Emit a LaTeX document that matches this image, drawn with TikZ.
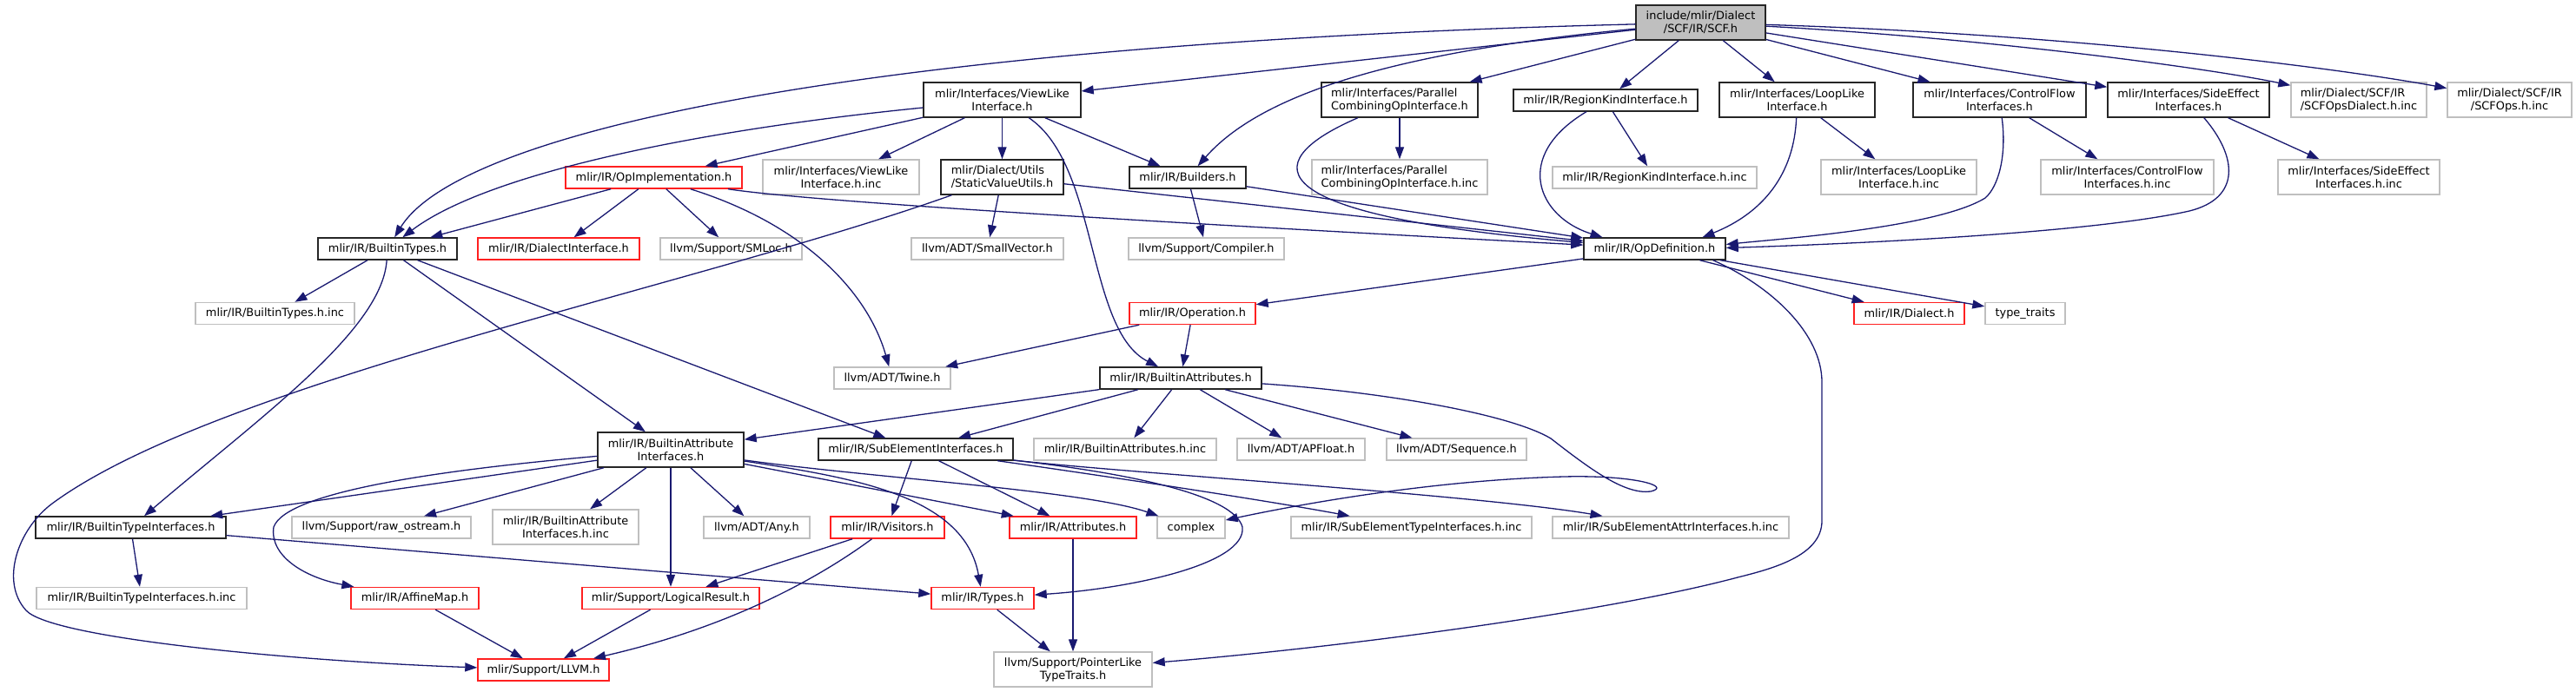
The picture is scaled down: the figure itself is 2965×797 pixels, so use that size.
\documentclass[tikz,border=0pt]{standalone}
\usepackage{fontspec}
\setmainfont{DejaVu Sans}
\usetikzlibrary{arrows.meta}
\definecolor{edgec}{HTML}{191970}
\definecolor{greyb}{HTML}{BFBFBF}
\definecolor{redb}{HTML}{FF2020}
\definecolor{rootf}{HTML}{BFBFBF}
\tikzset{
  box/.style={rectangle, inner sep=0pt, align=center, line width=1.4pt, fill=white,
    font=\fontsize{12.9}{15}\selectfont},
  nb/.style={box, draw=black!85},
  ng/.style={box, draw=greyb},
  nr/.style={box, draw=redb},
  nroot/.style={box, draw=black!85, fill=rootf},
  e/.style={draw=edgec, line width=1.3pt, -{Triangle[length=14pt,width=10pt]}},
  h1/.style={minimum height=25pt},
  h2/.style={minimum height=40pt}
}
\begin{document}
\begin{tikzpicture}[x=1pt,y=-1pt]
\useasboundingbox (0,0) rectangle (2965,797);
% row 0 / 1
\node[nroot,h2,minimum width=149pt] (root) at (1957.5,26) {include/mlir/Dialect\\/SCF/IR/SCF.h};
\node[nb,h2,minimum width=181pt] (vl) at (1153.5,115) {mlir/Interfaces/ViewLike\\Interface.h};
\node[nb,h2,minimum width=180pt,align=left] (par) at (1611,115) {mlir/Interfaces/Parallel\\CombiningOpInterface.h};
\node[nb,h1,minimum width=212pt] (rk) at (1848,115.5) {mlir/IR/RegionKindInterface.h};
\node[nb,h2,minimum width=179pt] (ll) at (2068.5,115) {mlir/Interfaces/LoopLike\\Interface.h};
\node[nb,h2,minimum width=199pt] (cf) at (2301.5,115) {mlir/Interfaces/ControlFlow\\Interfaces.h};
\node[nb,h2,minimum width=186pt] (se) at (2519,115) {mlir/Interfaces/SideEffect\\Interfaces.h};
\node[ng,h2,minimum width=156pt,align=left] (scfd) at (2715,115) {mlir/Dialect/SCF/IR\\/SCFOpsDialect.h.inc};
\node[ng,h2,minimum width=143pt] (scfo) at (2888.5,115) {mlir/Dialect/SCF/IR\\/SCFOps.h.inc};
% row 2
\node[nr,h1,minimum width=203pt] (opimp) at (752.5,204.5) {mlir/IR/OpImplementation.h};
\node[ng,h2,minimum width=180pt] (vlinc) at (968,204) {mlir/Interfaces/ViewLike\\Interface.h.inc};
\node[nb,h2,minimum width=141pt,align=left] (svu) at (1153.5,204) {mlir/Dialect/Utils\\/StaticValueUtils.h};
\node[nb,h1,minimum width=134pt] (bld) at (1367,204.5) {mlir/IR/Builders.h};
\node[ng,h2,minimum width=202pt,align=left] (parinc) at (1611,204) {mlir/Interfaces/Parallel\\CombiningOpInterface.h.inc};
\node[ng,h1,minimum width=235pt] (rkinc) at (1904.5,204.5) {mlir/IR/RegionKindInterface.h.inc};
\node[ng,h2,minimum width=179pt] (llinc) at (2185.5,204) {mlir/Interfaces/LoopLike\\Interface.h.inc};
\node[ng,h2,minimum width=199pt] (cfinc) at (2448.5,204) {mlir/Interfaces/ControlFlow\\Interfaces.h.inc};
\node[ng,h2,minimum width=186pt] (seinc) at (2715,204) {mlir/Interfaces/SideEffect\\Interfaces.h.inc};
% row 3
\node[nb,h1,minimum width=160pt] (bt) at (446,286.5) {mlir/IR/BuiltinTypes.h};
\node[nr,h1,minimum width=186pt] (di) at (643,286.5) {mlir/IR/DialectInterface.h};
\node[ng,h1,minimum width=163pt] (sml) at (841.5,286.5) {llvm/Support/SMLoc.h};
\node[ng,h1,minimum width=175pt] (sv) at (1136.5,286.5) {llvm/ADT/SmallVector.h};
\node[ng,h1,minimum width=179pt] (cmp) at (1388.5,286.5) {llvm/Support/Compiler.h};
\node[nb,h1,minimum width=163pt] (opd) at (1904.5,286.5) {mlir/IR/OpDefinition.h};
% row 4
\node[ng,h1,minimum width=183pt] (btinc) at (316.5,361) {mlir/IR/BuiltinTypes.h.inc};
\node[nr,h1,minimum width=145pt] (op) at (1372.5,361) {mlir/IR/Operation.h};
\node[nr,h1,minimum width=127pt] (dia) at (2197.5,361) {mlir/IR/Dialect.h};
\node[ng,h1,minimum width=92pt] (tt) at (2331,361) {type\_traits};
% row 5
\node[ng,h1,minimum width=134pt] (tw) at (1027,435.5) {llvm/ADT/Twine.h};
\node[nb,h1,minimum width=186pt] (ba) at (1359,435.5) {mlir/IR/BuiltinAttributes.h};
% row 6
\node[nb,h2,minimum width=168pt] (bai) at (772,518) {mlir/IR/BuiltinAttribute\\Interfaces.h};
\node[nb,h1,minimum width=224pt] (sei) at (1054,517.5) {mlir/IR/SubElementInterfaces.h};
\node[ng,h1,minimum width=210pt] (bainc) at (1295,517.5) {mlir/IR/BuiltinAttributes.h.inc};
\node[ng,h1,minimum width=147pt] (apf) at (1497.5,517.5) {llvm/ADT/APFloat.h};
\node[ng,h1,minimum width=161pt] (seq) at (1676.5,517.5) {llvm/ADT/Sequence.h};
% row 7
\node[nb,h1,minimum width=219pt] (bti) at (150.5,607.5) {mlir/IR/BuiltinTypeInterfaces.h};
\node[ng,h1,minimum width=206pt] (raw) at (439,607.5) {llvm/Support/raw\_ostream.h};
\node[ng,h2,minimum width=168pt] (baiinc) at (651,607) {mlir/IR/BuiltinAttribute\\Interfaces.h.inc};
\node[ng,h1,minimum width=122pt] (any) at (871,607.5) {llvm/ADT/Any.h};
\node[nr,h1,minimum width=131pt] (vis) at (1021.5,607.5) {mlir/IR/Visitors.h};
\node[nr,h1,minimum width=146pt] (att) at (1235,607.5) {mlir/IR/Attributes.h};
\node[ng,h1,minimum width=78pt] (cx) at (1371,607.5) {complex};
\node[ng,h1,minimum width=277pt] (setinc) at (1624.5,607.5) {mlir/IR/SubElementTypeInterfaces.h.inc};
\node[ng,h1,minimum width=272pt] (seainc) at (1923,607.5) {mlir/IR/SubElementAttrInterfaces.h.inc};
% row 8
\node[ng,h1,minimum width=242pt] (btiinc) at (163,689) {mlir/IR/BuiltinTypeInterfaces.h.inc};
\node[nr,h1,minimum width=147pt] (aff) at (477.5,689) {mlir/IR/AffineMap.h};
\node[nr,h1,minimum width=204pt] (lr) at (772,689) {mlir/Support/LogicalResult.h};
\node[nr,h1,minimum width=118pt] (ty) at (1131,689) {mlir/IR/Types.h};
% row 9
\node[nr,h1,minimum width=151pt] (llvm) at (625.5,771.5) {mlir/Support/LLVM.h};
\node[ng,h2,minimum width=182pt] (plt) at (1235,771) {llvm/Support/PointerLike\\TypeTraits.h};

% ---- edges from root
\draw[e] (root) .. controls (1000,50) and (530,150) .. (bt);
\draw[e] (root) -- (vl);
\draw[e] (root) .. controls (1600,60) and (1450,110) .. (bld);
\draw[e] (root) -- (par);
\draw[e] (root) -- (rk);
\draw[e] (root) -- (ll);
\draw[e] (root) -- (cf);
\draw[e] (root) -- (se);
\draw[e] (root) .. controls (2300,45) and (2550,80) .. (scfd);
\draw[e] (root) .. controls (2400,40) and (2700,80) .. (scfo);
% ---- ViewLike
\draw[e] (vl) .. controls (800,150) and (560,200) .. (bt);
\draw[e] (vl) -- (opimp);
\draw[e] (vl) -- (vlinc);
\draw[e] (vl) -- (svu);
\draw[e] (vl) -- (bld);
\draw[e] (vl) .. controls (1265,190) and (1250,380) .. (ba);
% ---- Parallel
\draw[e] (par) -- (parinc);
\draw[e] (par) .. controls (1460,180) and (1420,245) .. (opd);
% ---- RegionKind
\draw[e] (rk) -- (rkinc);
\draw[e] (rk) .. controls (1740,180) and (1770,250) .. ([xshift=-60pt]opd.north);
% ---- LoopLike
\draw[e] (ll) -- (llinc);
\draw[e] (ll) .. controls (2065,200) and (2030,245) .. ([xshift=55pt]opd.north);
% ---- ControlFlow
\draw[e] (cf) -- (cfinc);
\draw[e] (cf) .. controls (2310,180) and (2300,215) .. (2285,228) .. controls (2230,262) and (2050,275) .. ([yshift=5pt]opd.east);
% ---- SideEffect
\draw[e] (se) -- (seinc);
\draw[e] (se) .. controls (2575,180) and (2580,228) .. (2520,243) .. controls (2400,270) and (2100,282) .. ([yshift=1pt]opd.east);
% ---- OpImplementation
\draw[e] (opimp) -- (bt);
\draw[e] (opimp) -- (di);
\draw[e] (opimp) -- (sml);
\draw[e] (opimp) .. controls (950,235) and (1500,265) .. (opd);
\draw[e] (opimp) .. controls (930,260) and (1000,340) .. (tw);
% ---- StaticValueUtils
\draw[e] (svu) -- (sv);
\draw[e] (svu) -- (opd);
\draw[e] (svu) .. controls (800,330) and (250,440) .. (60,580) .. controls (20,610) and (0,670) .. (30,703) .. controls (60,736) and (350,762) .. (llvm);
% ---- Builders
\draw[e] (bld) -- (cmp);
\draw[e] (bld) -- (opd);
% ---- OpDefinition
\draw[e] (opd) -- (op);
\draw[e] (opd) -- (dia);
\draw[e] (opd) -- (tt);
\draw[e] ([xshift=-15pt]opd.south east) .. controls (2040,330) and (2097,385) .. (2097,440) -- (2097,600) .. controls (2097,640) and (2040,655) .. (2000,665) .. controls (1850,705) and (1550,745) .. (plt);
% ---- Operation
\draw[e] (op) -- (tw);
\draw[e] (op) -- (ba);
% ---- BuiltinTypes
\draw[e] (bt) -- (btinc);
\draw[e] (bt) .. controls (440,380) and (300,480) .. (bti);
\draw[e] (bt) -- (bai);
\draw[e] (bt) -- (sei);
% ---- BuiltinAttributes
\draw[e] (ba) -- (bai);
\draw[e] (ba) -- (sei);
\draw[e] (ba) -- (bainc);
\draw[e] (ba) -- (apf);
\draw[e] (ba) -- (seq);
\draw[e] (ba) .. controls (1600,452) and (1740,478) .. (1785,505) .. controls (1830,540) and (1870,570) .. (1900,566) .. controls (1925,560) and (1880,547) .. (1800,549) .. controls (1650,553) and (1500,580) .. (cx);
% ---- BuiltinAttributeInterfaces
\draw[e] (bai) -- (bti);
\draw[e] (bai) -- (raw);
\draw[e] (bai) -- (baiinc);
\draw[e] (bai) -- (lr);
\draw[e] (bai) -- (any);
\draw[e] (bai) .. controls (520,540) and (330,565) .. (315,607) .. controls (310,640) and (350,665) .. (aff);
\draw[e] (bai) -- (att);
\draw[e] (bai) .. controls (980,550) and (1110,570) .. (ty);
\draw[e] (bai) .. controls (1000,550) and (1250,565) .. (cx);
% ---- SubElementInterfaces
\draw[e] (sei) -- (vis);
\draw[e] (sei) -- (att);
\draw[e] (sei) .. controls (1300,545) and (1420,570) .. (1430,607) .. controls (1435,650) and (1300,678) .. (ty);
\draw[e] (sei) .. controls (1250,545) and (1450,575) .. (setinc);
\draw[e] (sei) .. controls (1300,545) and (1700,570) .. (seainc);
% ---- lower
\draw[e] (vis) -- (lr);
\draw[e] (vis) .. controls (950,660) and (850,720) .. (llvm);
\draw[e] (att) -- (plt);
\draw[e] (ty) -- (plt);
\draw[e] (aff) -- (llvm);
\draw[e] (lr) -- (llvm);
\draw[e] (bti) -- (btiinc);
\draw[e] (bti) -- (ty);
\end{tikzpicture}
\end{document}
